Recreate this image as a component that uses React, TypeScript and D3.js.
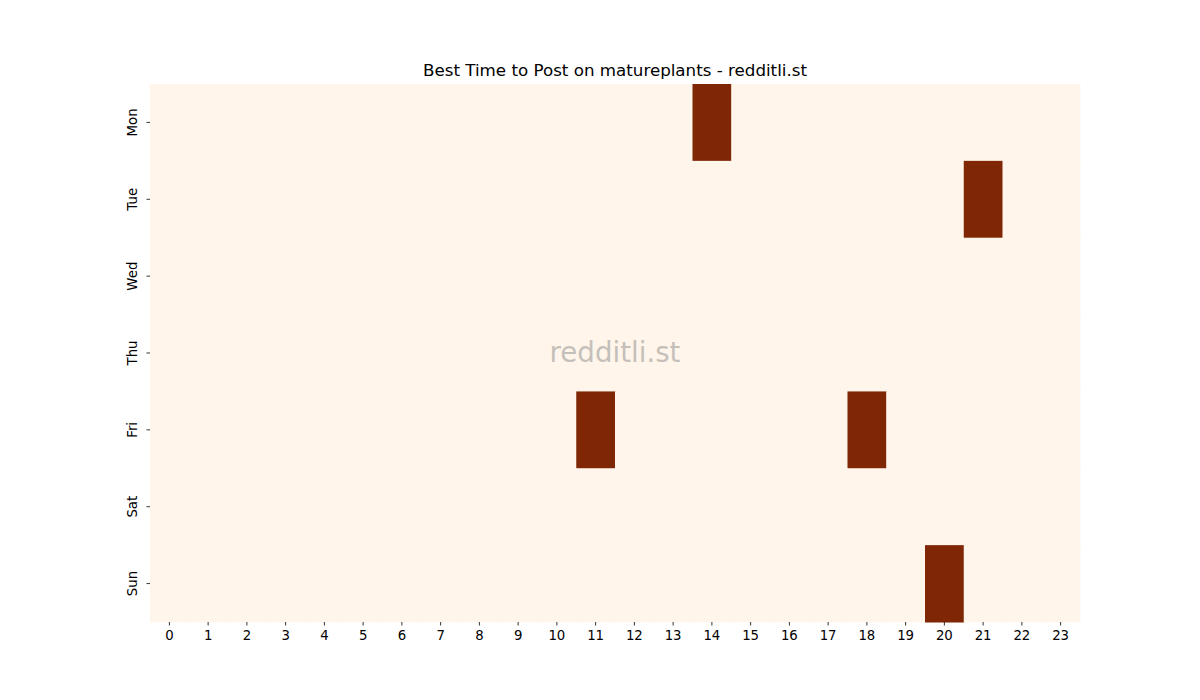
import React from "react";
import * as d3 from "d3";

const days = ["Mon", "Tue", "Wed", "Thu", "Fri", "Sat", "Sun"];
const hours = Array.from({ length: 24 }, (_, i) => String(i));
// hot cells: [day, hour]
const hotCells: [string, number][] = [
  ["Mon", 14],
  ["Tue", 21],
  ["Fri", 11],
  ["Fri", 18],
  ["Sun", 20],
];

const W = 1200, H = 700;
const left = 150, right = 1080, top = 84, bottom = 622;

export default function App() {
  const x = d3.scaleBand<string>().domain(hours).range([left, right]);
  const y = d3.scaleBand<string>().domain(days).range([top, bottom]);
  const color = d3.scaleLinear<string>().domain([0, 1]).range(["#fff5eb", "#7f2704"]);
  const cells: { d: string; h: string; v: number }[] = [];
  days.forEach((d) =>
    hours.forEach((h) => {
      const v = hotCells.some(([dd, hh]) => dd === d && String(hh) === h) ? 1 : 0;
      cells.push({ d, h, v });
    })
  );
  const font = "DejaVu Sans, sans-serif";
  return (
    <svg width={W} height={H} style={{ position: "absolute", left: 0, top: 0 }}>
      <rect width={W} height={H} fill="#fff" />
      {cells.map((c) => (
        <rect
          key={c.d + c.h}
          x={x(c.h)}
          y={y(c.d)}
          width={x.bandwidth() + 0.5}
          height={y.bandwidth() + 0.5}
          fill={color(c.v)}
        />
      ))}
      {hours.map((h) => {
        const cx = (x(h) as number) + x.bandwidth() / 2;
        return (
          <g key={h}>
            <line x1={cx} x2={cx} y1={bottom} y2={bottom + 3.5} stroke="#000" strokeWidth={0.8} />
            <text x={cx} y={bottom + 18} textAnchor="middle" fontFamily={font} fontSize={13.3}>
              {h}
            </text>
          </g>
        );
      })}
      {days.map((d) => {
        const cy = (y(d) as number) + y.bandwidth() / 2;
        return (
          <g key={d}>
            <line x1={left - 3.5} x2={left} y1={cy} y2={cy} stroke="#000" strokeWidth={0.8} />
            <text
              transform={`translate(${left - 13},${cy}) rotate(-90)`}
              textAnchor="middle"
              fontFamily={font}
              fontSize={13.3}
            >
              {d}
            </text>
          </g>
        );
      })}
      <text x={615} y={76} textAnchor="middle" fontFamily={font} fontSize={16.7}>
        Best Time to Post on matureplants - redditli.st
      </text>
      <text
        x={615}
        y={362}
        textAnchor="middle"
        fontFamily={font}
        fontSize={27.7}
        fill="#808080"
        opacity={0.45}
      >
        redditli.st
      </text>
    </svg>
  );
}
